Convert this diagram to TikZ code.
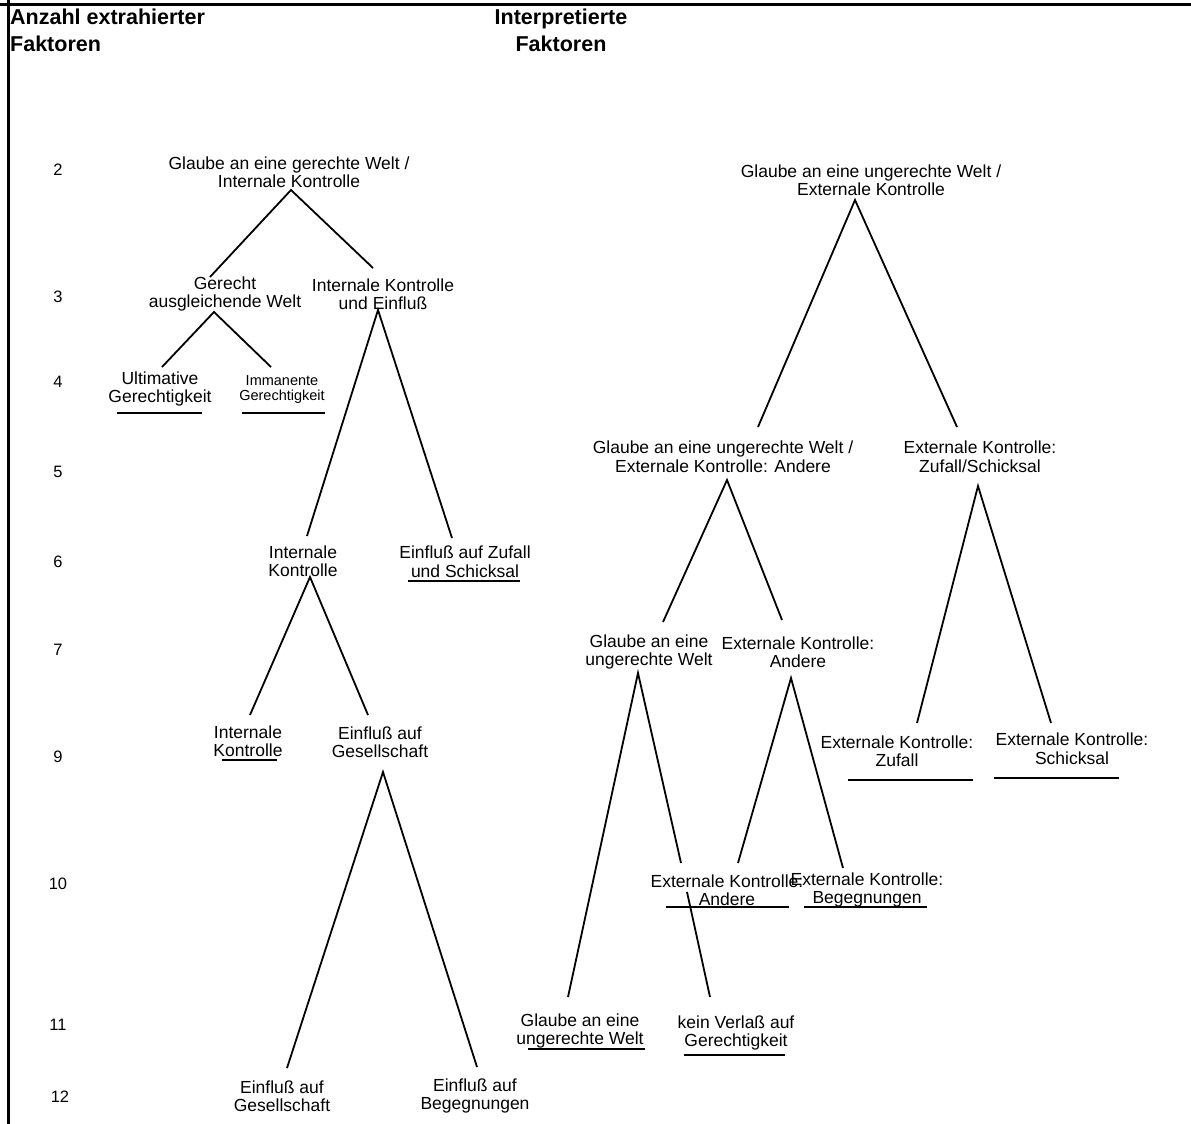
\documentclass[tikz,border=0pt]{standalone}
\usepackage{fontspec}
\setmainfont{Liberation Sans}
\begin{document}
\begin{tikzpicture}[x=1pt,y=-1pt,
  lbl/.style={font=\fontsize{17.5}{18.5}\selectfont, align=center, inner sep=0pt},
  small/.style={font=\fontsize{14.5}{15.5}\selectfont, align=center, inner sep=0pt},
  num/.style={font=\fontsize{16.5}{18}\selectfont, inner sep=0pt},
  head/.style={font=\fontsize{21.5}{27}\selectfont\bfseries, inner sep=0pt},
  conn/.style={line width=1.8pt},
  uline/.style={line width=1.8pt}]
\useasboundingbox (0,0) rectangle (1191,1124);
% frame (top and left only)
\draw[line width=3pt] (0,5) -- (1191,5);
\draw[line width=3pt] (8,0) -- (8,1124);
% headers
\node[head, anchor=west, align=left] (hleft) at (10,30.5) {Anzahl extrahierter\\Faktoren};
\node[head, align=center] (hright) at (561,30.5) {Interpretierte\\Faktoren};
% numbers
\node[num] (k2)  at (58,170)  {2};
\node[num] (k3)  at (58,297)  {3};
\node[num] (k4)  at (58,382)  {4};
\node[num] (k5)  at (58,472)  {5};
\node[num] (k6)  at (58,562)  {6};
\node[num] (k7)  at (58,650)  {7};
\node[num] (k9)  at (58,757)  {9};
\node[num] (k10) at (58,884)  {10};
\node[num] (k11) at (58,1025) {11};
\node[num] (k12) at (60,1097) {12};
% left tree
\node[lbl] (n2l) at (289,172) {Glaube an eine gerechte Welt /\\Internale Kontrolle};
\node[lbl] (n3a) at (225,294) {Gerecht\\ausgleichende Welt};
\node[lbl] (n3b) at (383,294) {Internale Kontrolle\\und Einfluß};
\node[lbl] (n4a) at (160,389) {Ultimative\\Gerechtigkeit};
\node[small] (n4b) at (282,389.5) {Immanente\\Gerechtigkeit};
\node[lbl] (n6a) at (303,561) {Internale\\Kontrolle};
\node[lbl] (n6b) at (465,561.5) {Einfluß auf Zufall\\und Schicksal};
\node[lbl] (n9a) at (248,741) {Internale\\Kontrolle};
\node[lbl] (n9b) at (380,742) {Einfluß auf\\Gesellschaft};
\node[lbl] (n12a) at (282,1096) {Einfluß auf\\Gesellschaft};
\node[lbl] (n12b) at (475,1096) {Einfluß auf\\Begegnungen};
% right tree
\node[lbl] (r2)  at (871,180) {Glaube an eine ungerechte Welt /\\Externale Kontrolle};
\node[lbl] (r5a) at (723,456.5) {Glaube an eine ungerechte Welt /\\Externale Kontrolle: Andere};
\node[lbl] (r5b) at (980,456.5) {Externale Kontrolle:\\Zufall/Schicksal};
\node[lbl] (r7a) at (649,652) {Glaube an eine\\ungerechte Welt};
\node[lbl] (r7b) at (798,652) {Externale Kontrolle:\\Andere};
\node[lbl] (r9a) at (897,751) {Externale Kontrolle:\\Zufall};
\node[lbl] (r9b) at (1072,748.5) {Externale Kontrolle:\\Schicksal};
\node[lbl] (r10a) at (727,890) {Externale Kontrolle:\\Andere};
\node[lbl] (r10b) at (867,890) {Externale Kontrolle:\\Begegnungen};
\node[lbl] (r11a) at (580,1031) {Glaube an eine\\ungerechte Welt};
\node[lbl] (r11b) at (736,1033) {kein Verlaß auf\\Gerechtigkeit};
% connectors left
\draw[conn] ([shift={(-15,-17)}]n3a.center) -- ([shift={(2,18)}]n2l.center) -- ([shift={(-10,-26)}]n3b.center);
\draw[conn] ([shift={(2,-22)}]n4a.center) -- ([shift={(-11,18)}]n3a.center) -- ([shift={(-11,-22.5)}]n4b.center);
\draw[conn] ([shift={(4,-25)}]n6a.center) -- ([shift={(-5,16)}]n3b.center) -- ([shift={(-13,-23.5)}]n6b.center);
\draw[conn] ([shift={(2,-26)}]n9a.center) -- ([shift={(7,16)}]n6a.center) -- ([shift={(-12,-27)}]n9b.center);
\draw[conn] ([shift={(5,-28)}]n12a.center) -- ([shift={(3,30)}]n9b.center) -- ([shift={(2,-29)}]n12b.center);
% connectors right
\draw[conn] ([shift={(35,-29.5)}]r5a.center) -- ([shift={(-16,20)}]r2.center) -- ([shift={(-23,-29.5)}]r5b.center);
\draw[conn] ([shift={(14,-30)}]r7a.center) -- ([shift={(4,23.5)}]r5a.center) -- ([shift={(-16,-32)}]r7b.center);
\draw[conn] ([shift={(20,-28)}]r9a.center) -- ([shift={(-2,29.5)}]r5b.center) -- ([shift={(-21,-25.5)}]r9b.center);
\draw[conn] ([shift={(-12,-34)}]r11a.center) -- ([shift={(-11,21)}]r7a.center) -- ([shift={(-46,-27)}]r10a.center);
\draw[conn] ([shift={(11,-27)}]r10a.center) -- ([shift={(-7,26)}]r7b.center) -- ([shift={(-24,-22)}]r10b.center);
\draw[conn] ([shift={(-40,2)}]r10a.center) -- ([shift={(-26,-36)}]r11b.center);
% underlines
\draw[uline] ([shift={(-43,24)}]n4a.center) -- ([shift={(42,24)}]n4a.center);
\draw[uline] ([shift={(-40,23.5)}]n4b.center) -- ([shift={(43,23.5)}]n4b.center);
\draw[uline] ([shift={(-57,19.5)}]n6b.center) -- ([shift={(55,19.5)}]n6b.center);
\draw[uline] ([shift={(-26,19)}]n9a.center) -- ([shift={(29,19)}]n9a.center);
\draw[uline] ([shift={(-49,29)}]r9a.center) -- ([shift={(76,29)}]r9a.center);
\draw[uline] ([shift={(-78,29.5)}]r9b.center) -- ([shift={(47,29.5)}]r9b.center);
\draw[uline] ([shift={(-61,17)}]r10a.center) -- ([shift={(62,17)}]r10a.center);
\draw[uline] ([shift={(-63,17)}]r10b.center) -- ([shift={(60,17)}]r10b.center);
\draw[uline] ([shift={(-52,18)}]r11a.center) -- ([shift={(65,18)}]r11a.center);
\draw[uline] ([shift={(-52,22)}]r11b.center) -- ([shift={(49,22)}]r11b.center);
\end{tikzpicture}
\end{document}
